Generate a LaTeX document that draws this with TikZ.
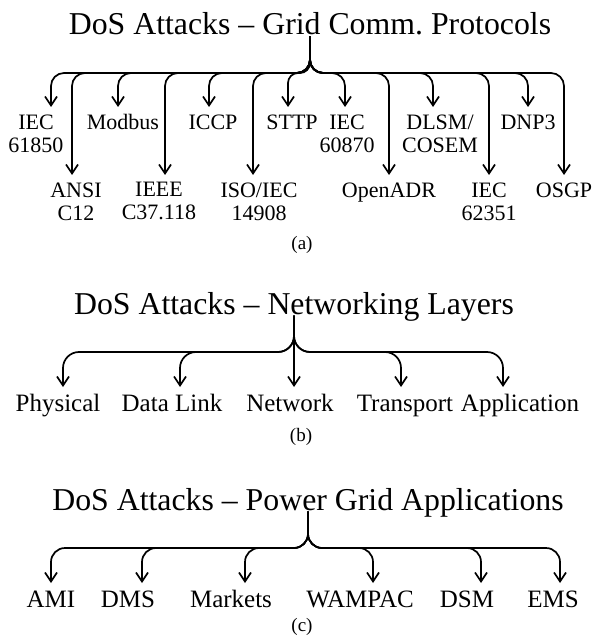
\documentclass[tikz,border=0pt]{standalone}
\usepackage{fontspec}
\setmainfont{Liberation Serif}
\usetikzlibrary{arrows.meta}

\begin{document}
\begin{tikzpicture}[x=1pt, y=-1pt, line width=1.7pt,
    ttl/.style={font=\fontsize{31.8}{34}\selectfont, inner sep=0pt, outer sep=1.5pt, text depth=0pt, anchor=base},
    lbl/.style={align=center, inner sep=0pt, outer sep=7.5pt, anchor=north,
      execute at begin node={\vphantom{Ohd/}}},
    lbla/.style={lbl, font=\fontsize{22}{23}\selectfont},
    lblb/.style={lbl, font=\fontsize{25}{27}\selectfont},
    capt/.style={font=\fontsize{19}{21}\selectfont, inner sep=0pt},
    br/.style={-{Straight Barb[length=9pt,width=12pt]}}]
    \useasboundingbox (0,0) rectangle (593,639);

    % (a) protocols
    \node[ttl] (ttlA) at (310,35) {DoS Attacks -- Grid Comm.\ Protocols};
    \coordinate (hubA) at (310,73);
    \node[lbla] (iec61850) at (36,107)  {IEC\\61850};
    \node[lbla] (modbus)   at (123,107) {Modbus};
    \node[lbla] (iccp)     at (213,107) {ICCP};
    \node[lbla] (sttp)     at (292,107) {STTP};
    \node[lbla] (iec60870) at (347,107) {IEC\\60870};
    \node[lbla] (dlsm)     at (440,107) {DLSM/\\COSEM};
    \node[lbla] (dnp)      at (528,107) {DNP3};
    \node[lbla] (ansi)     at (76,175)  {ANSI\\C12};
    \node[lbla] (ieee)     at (159,175) {IEEE\\C37.118};
    \node[lbla] (isoiec)   at (259,175) {ISO/IEC\\14908};
    \node[lbla] (openadr)  at (389,175) {OpenADR};
    \node[lbla] (iec62351) at (489,175) {IEC\\62351};
    \node[lbla] (osgp)     at (564,175) {OSGP};

    \begin{scope}[rounded corners=13pt]
      \draw[br] (ttlA.south) -- (hubA) -| ([xshift=15pt]iec61850.north);
      \draw[br] (ttlA.south) -- (hubA) -| ([xshift=-4pt]ansi.north);
      \draw[br] (ttlA.south) -- (hubA) -| ([xshift=-5pt]modbus.north);
      \draw[br] (ttlA.south) -- (hubA) -| ([xshift=6pt]ieee.north);
      \draw[br] (ttlA.south) -- (hubA) -| ([xshift=-4pt]iccp.north);
      \draw[br] (ttlA.south) -- (hubA) -| ([xshift=-6pt]isoiec.north);
      \draw[br, rounded corners=10pt] (ttlA.south) -- (hubA) -| ([xshift=-4pt]sttp.north);
      \draw[br] (ttlA.south) -- (hubA) -| ([xshift=-2pt]iec60870.north);
      \draw[br] (ttlA.south) -- (hubA) -| (openadr.north);
      \draw[br] (ttlA.south) -- (hubA) -| ([xshift=-7pt]dlsm.north);
      \draw[br] (ttlA.south) -- (hubA) -| (iec62351.north);
      \draw[br] (ttlA.south) -- (hubA) -| (dnp.north);
      \draw[br] (ttlA.south) -- (hubA) -| (osgp.north);
    \end{scope}
    \node[capt] (capA) at (302,245) {(a)};

    % (b) layers
    \node[ttl] (ttlB) at (294,314) {DoS Attacks -- Networking Layers};
    \coordinate (hubB) at (294,352);
    \node[lblb] (phys)   at (58,387)  {Physical};
    \node[lblb] (dlink)  at (172,387) {Data Link};
    \node[lblb] (netw)   at (290,387) {Network};
    \node[lblb] (transp) at (405,387) {Transport};
    \node[lblb] (appl)   at (520,387) {Application};

    \begin{scope}[rounded corners=16pt]
      \draw[br] (ttlB.south) -- (hubB) -| ([xshift=5pt]phys.north);
      \draw[br] (ttlB.south) -- (hubB) -| ([xshift=8pt]dlink.north);
      \draw[br] (ttlB.south) -- (ttlB.south |- netw.north);
      \draw[br] (ttlB.south) -- (hubB) -| ([xshift=-4pt]transp.north);
      \draw[br] (ttlB.south) -- (hubB) -| ([xshift=-17pt]appl.north);
    \end{scope}
    \node[capt] (capB) at (301,437) {(b)};

    % (c) applications
    \node[ttl] (ttlC) at (308,510) {DoS Attacks -- Power Grid Applications};
    \coordinate (hubC) at (308,548);
    \node[lblb] (ami)     at (51,583)  {AMI};
    \node[lblb] (dms)     at (128,583) {DMS};
    \node[lblb] (markets) at (231,583) {Markets};
    \node[lblb] (wampac)  at (360,583) {WAMPAC};
    \node[lblb] (dsm)     at (467,583) {DSM};
    \node[lblb] (ems)     at (553,583) {EMS};

    \begin{scope}[rounded corners=14pt]
      \draw[br] (ttlC.south) -- (hubC) -| (ami.north);
      \draw[br] (ttlC.south) -- (hubC) -| ([xshift=14pt]dms.north);
      \draw[br] (ttlC.south) -- (hubC) -| ([xshift=14pt]markets.north);
      \draw[br] (ttlC.south) -- (hubC) -| ([xshift=13pt]wampac.north);
      \draw[br] (ttlC.south) -- (hubC) -| ([xshift=14pt]dsm.north);
      \draw[br] (ttlC.south) -- (hubC) -| ([xshift=7pt]ems.north);
    \end{scope}
    \node[capt] (capC) at (302,627) {(c)};
  \end{tikzpicture}
\end{document}
